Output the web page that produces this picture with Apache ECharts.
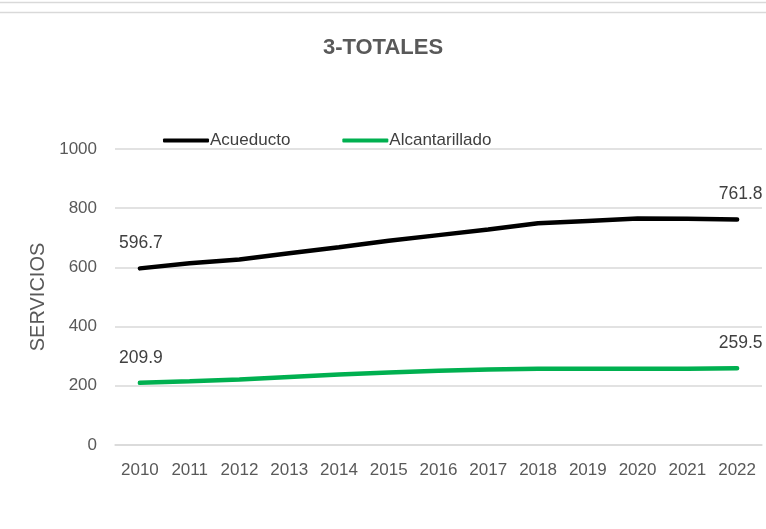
<!DOCTYPE html>
<html><head><meta charset="utf-8">
<script src="https://cdn.jsdelivr.net/npm/echarts@6/dist/echarts.min.js"></script>
<style>html,body{margin:0;padding:0;background:#fff}#c{width:766px;height:529px}</style>
</head><body><div id="c"></div>
<script>
var years = ['2010','2011','2012','2013','2014','2015','2016','2017','2018','2019','2020','2021','2022'];
var acueducto = [596.7, 614, 627, 648, 668, 690, 709, 728, 749, 757, 765, 764, 761.8];
var alcantarillado = [209.9, 215, 221, 230, 238, 245, 251, 255, 258, 258, 258, 258, 259.5];
var yTicks = [0, 200, 400, 600, 800, 1000];

function endLabels(arr){
  return arr.map(function(v,i){
    var show = (i===0 || i===arr.length-1);
    return {value:v, label:{show:show, position:'top', distance:16, offset:[i===0?1:3.5,0],
      formatter:function(p){return p.value.toFixed(1);}, color:'#404040', fontSize:17.5,
      fontFamily:'Liberation Sans'}};
  });
}

var chart = echarts.init(document.getElementById('c'));
chart.setOption({
  animation:false,
  backgroundColor:'#fff',
  title:{text:'3-TOTALES', left:'center', top:32, textStyle:{color:'#595959', fontSize:22, fontWeight:'bold', fontFamily:'Liberation Sans'}},
  graphic:[
    {type:'line', shape:{x1:0,y1:2.5,x2:766,y2:2.5}, style:{stroke:'#d9d9d9', lineWidth:1.5}},
    {type:'line', shape:{x1:0,y1:12.5,x2:766,y2:12.5}, style:{stroke:'#d9d9d9', lineWidth:1.5}}
  ],
  legend:{left:158, top:127, itemWidth:46, itemHeight:4, itemGap:52, icon:'roundRect',
    textStyle:{color:'#404040', fontSize:17, fontFamily:'Liberation Sans', padding:[0,0,0,-4]},
    data:['Acueducto','Alcantarillado']},
  grid:{left:115, right:4, top:149, bottom:84},
  xAxis:{type:'category', data:years, boundaryGap:true,
    axisLine:{lineStyle:{color:'#d9d9d9', width:1.5}}, axisTick:{show:false},
    axisLabel:{color:'#595959', fontSize:17, fontFamily:'Liberation Sans', margin:17}},
  yAxis:{type:'value', min:yTicks[0], max:yTicks[yTicks.length-1], interval:200,
    name:'SERVICIOS', nameLocation:'middle', nameGap:65, nameRotate:90,
    nameTextStyle:{color:'#595959', fontSize:20, fontFamily:'Liberation Sans'},
    axisLine:{show:false}, axisTick:{show:false},
    axisLabel:{color:'#595959', fontSize:17, fontFamily:'Liberation Sans', margin:18, formatter:function(v){return String(v);}},
    splitLine:{lineStyle:{color:'#d9d9d9', width:1.5}}},
  series:[
    {name:'Acueducto', type:'line', data:endLabels(acueducto), showSymbol:true, symbol:'circle', symbolSize:0.1,
      lineStyle:{color:'#000', width:4.5, cap:'round'}, itemStyle:{color:'#000'}},
    {name:'Alcantarillado', type:'line', data:endLabels(alcantarillado), showSymbol:true, symbol:'circle', symbolSize:0.1,
      lineStyle:{color:'#00b050', width:4.5, cap:'round'}, itemStyle:{color:'#00b050'}}
  ]
});
</script></body></html>
